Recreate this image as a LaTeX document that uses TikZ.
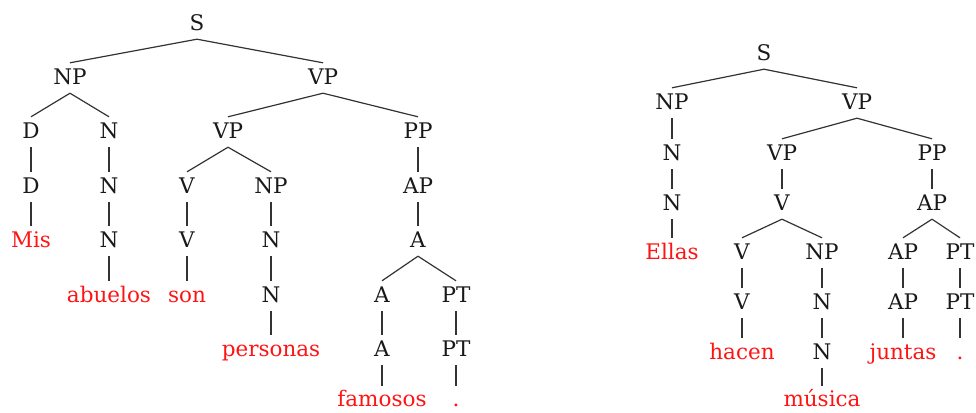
\documentclass[tikz,border=0pt]{standalone}
\usepackage{fontspec}
\setmainfont{DejaVu Serif}
\definecolor{wordred}{RGB}{255,20,20}
\begin{document}
\begin{tikzpicture}[x=1pt,y=-1pt,
  cat/.style={inner sep=0pt,text height=21.8pt,text depth=8.2pt,anchor=base,font=\fontsize{21.5}{24}\selectfont,text=black!90},
  word/.style={cat,text=wordred},
  lastword/.style={word,text height=20pt,text depth=1pt},
  edge/.style={draw=black!80,line width=1.2pt}]
\useasboundingbox (0,0) rectangle (976,412);
% ---------- left tree ----------
\node[cat] (S) at (197,30.8) {S};
\node[cat] (NP) at (70,84.8) {NP};
\node[cat] (VP) at (323,84.8) {VP};
\node[cat] (D1) at (31,138.8) {D};
\node[cat] (N1) at (109,138.8) {N};
\node[cat] (VP2) at (228,138.8) {VP};
\node[cat] (PP) at (418,138.8) {PP};
\node[cat] (D2) at (31,193.8) {D};
\node[cat] (N2) at (109,193.8) {N};
\node[cat] (V1) at (187,193.8) {V};
\node[cat] (NP2) at (271,193.8) {NP};
\node[cat] (AP) at (418,193.8) {AP};
\node[word] (Mis) at (31,247.8) {Mis};
\node[cat] (N3) at (109,247.8) {N};
\node[cat] (V2) at (187,247.8) {V};
\node[cat] (N4) at (271,247.8) {N};
\node[cat] (A1) at (418,247.8) {A};
\node[word] (abuelos) at (109,302.8) {abuelos};
\node[word] (son) at (187,302.8) {son};
\node[cat] (N5) at (271,302.8) {N};
\node[cat] (A2) at (382,302.8) {A};
\node[cat] (PT1) at (456,302.8) {PT};
\node[word] (personas) at (271,356.8) {personas};
\node[cat] (A3) at (382,356.8) {A};
\node[cat] (PT2) at (456,356.8) {PT};
\node[lastword] (famosos) at (382,406.5) {famosos};
\node[lastword] (dot1) at (456,406.5) {.};
\foreach \a/\b in {S/NP,S/VP,NP/D1,NP/N1,VP/VP2,VP/PP,D1/D2,N1/N2,VP2/V1,VP2/NP2,PP/AP,
  D2/Mis,N2/N3,V1/V2,NP2/N4,AP/A1,N3/abuelos,V2/son,N4/N5,A1/A2,A1/PT1,N5/personas,A2/A3,PT1/PT2,A3/famosos,PT2/dot1}
  \draw[edge] (\a.south) -- (\b.north);
% ---------- right tree ----------
\node[cat] (rS) at (764,60.8) {S};
\node[cat] (rNP) at (672,109.8) {NP};
\node[cat] (rVP) at (857,109.8) {VP};
\node[cat] (rN1) at (672,160.8) {N};
\node[cat] (rVP2) at (782,160.8) {VP};
\node[cat] (rPP) at (932,160.8) {PP};
\node[cat] (rN2) at (672,210.8) {N};
\node[cat] (rV1) at (782,210.8) {V};
\node[cat] (rAP) at (932,210.8) {AP};
\node[word] (Ellas) at (672,259.8) {Ellas};
\node[cat] (rV2) at (742,259.8) {V};
\node[cat] (rNP2) at (822,259.8) {NP};
\node[cat] (rAP2) at (903,259.8) {AP};
\node[cat] (rPT1) at (960,259.8) {PT};
\node[cat] (rV3) at (742,309.8) {V};
\node[cat] (rN3) at (822,309.8) {N};
\node[cat] (rAP3) at (903,309.8) {AP};
\node[cat] (rPT2) at (960,309.8) {PT};
\node[word] (hacen) at (742,359.8) {hacen};
\node[cat] (rN4) at (822,359.8) {N};
\node[word] (juntas) at (903,359.8) {juntas};
\node[word] (dot2) at (960,359.8) {.};
\node[lastword] (musica) at (822,406.5) {música};
\foreach \a/\b in {rS/rNP,rS/rVP,rNP/rN1,rVP/rVP2,rVP/rPP,rN1/rN2,rVP2/rV1,rPP/rAP,rN2/Ellas,
  rV1/rV2,rV1/rNP2,rAP/rAP2,rAP/rPT1,rV2/rV3,rNP2/rN3,rAP2/rAP3,rPT1/rPT2,rV3/hacen,rN3/rN4,
  rAP3/juntas,rPT2/dot2,rN4/musica}
  \draw[edge] (\a.south) -- (\b.north);
\end{tikzpicture}
\end{document}
